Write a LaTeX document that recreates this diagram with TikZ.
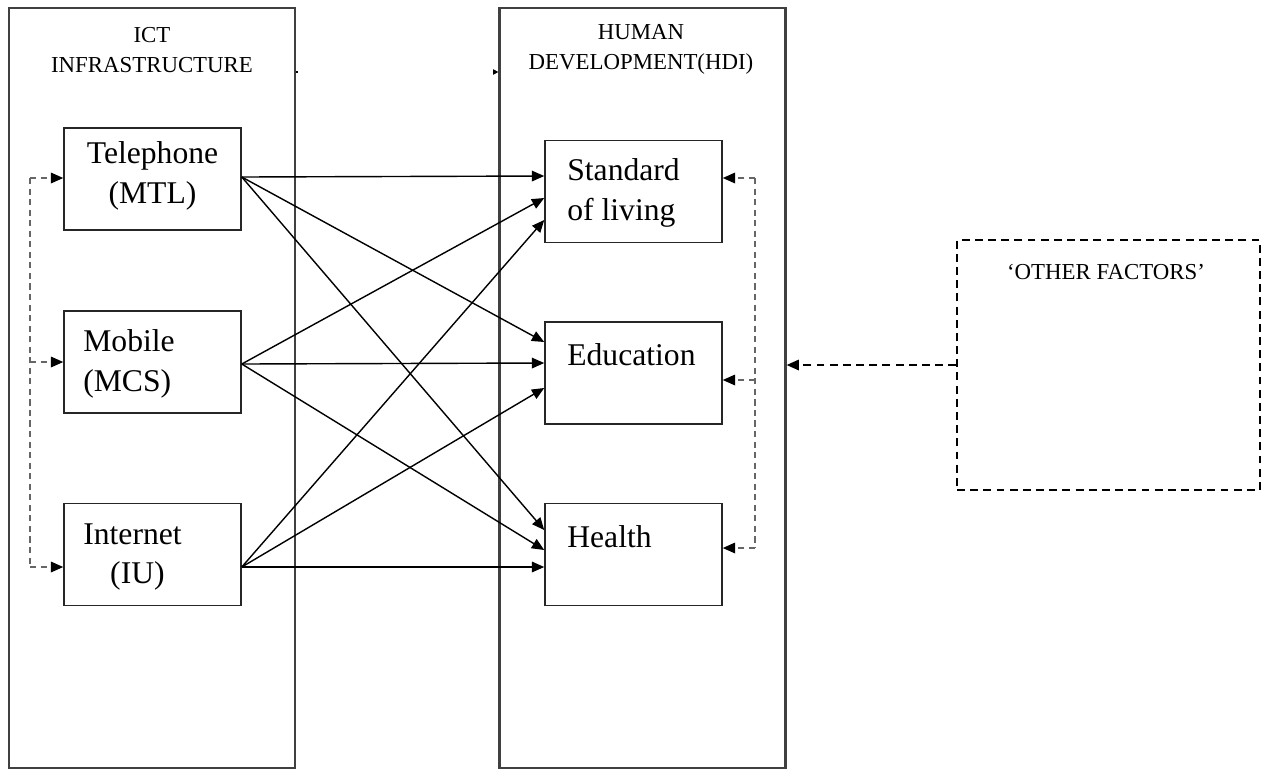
\documentclass[tikz,border=0pt]{standalone}
\usepackage{fontspec}
\setmainfont{Liberation Serif}
\usetikzlibrary{arrows.meta,calc}

\tikzset{
  col/.style={draw=black!75, line width=1.3pt, minimum width=5.72cm, minimum height=15.2cm, inner sep=0pt},
  box/.style={draw=black!85, line width=0.9pt, minimum width=3.54cm, minimum height=2.04cm, inner sep=0pt},
  other/.style={draw, line width=0.9pt, dash pattern=on 4.5pt off 3pt, minimum width=6.06cm, minimum height=5cm, inner sep=0pt},
  txt/.style={font=\fontsize{18}{22.7}\selectfont, inner sep=0pt},
  hd/.style={font=\fontsize{13}{17}\selectfont, align=center, inner sep=0pt},
  conn/.style={line width=0.8pt, -{Triangle[length=7pt,width=6pt]}},
  dline/.style={black!60, line width=0.9pt, dash pattern=on 3.5pt off 2.5pt},
  tip/.style={-{Triangle[length=7pt,width=6pt,color=black]}}
}

\begin{document}
\begin{tikzpicture}[x=0.02cm,y=-0.02cm]
  \useasboundingbox (0,0) rectangle (1265,769);

  % the two columns
  \node[col] (ict) at (152,388) {};
  \node[col] (hdi) at (642.5,388) {};
  \node[hd] (ict-t) at (152,50) {ICT\\INFRASTRUCTURE};
  \node[hd] (hdi-t) at (641,49) {HUMAN\\DEVELOPMENT(HDI)};

  % ICT boxes
  \node[box] (tel) at (152.5,179) {};
  \node[box] (mob) at (152.5,362) {};
  \node[box] (net) at (152.5,554.5) {};
  \node[txt, align=center] (tel-t) at (152.5,175.5) {Telephone\\(MTL)};
  \node[txt, align=left, anchor=west] (mob-t) at (83,364) {Mobile\\(MCS)};
  \node[txt, align=left, anchor=west] (net-t) at (83,557) {Internet\\\hspace*{0.85em}(IU)};

  % HDI boxes
  \node[box] (std) at (633.5,191.5) {};
  \node[box] (edu) at (633.5,373) {};
  \node[box] (hea) at (633.5,554.5) {};
  \node[txt, align=left, anchor=west] (std-t) at (567,193) {Standard\\of living};
  \node[txt, anchor=west] (edu-t) at (567,355) {Education};
  \node[txt, anchor=west] (hea-t) at (567,537) {Health};

  % other factors
  \node[other] (oth) at (1108.5,365) {};
  \node[hd] (oth-t) at (1106,272) {‘OTHER FACTORS’};

  % links between the boxes
  \foreach \s/\sy/\a/\b/\c in {tel/-2/-15.5/-31/-24.5, mob/2/6.5/-10/-4.5, net/12.5/28.5/15/12.5} {
    \draw[conn] ($(\s.east)+(0,\sy)$) -- ($(std.west)+(0,\a)$);
    \draw[conn] ($(\s.east)+(0,\sy)$) -- ($(edu.west)+(0,\b)$);
    \draw[conn] ($(\s.east)+(0,\sy)$) -- ($(hea.west)+(0,\c)$);
  }

  % dashed brackets
  \coordinate (lb1) at (30,178);
  \coordinate (lb2) at (30,362);
  \coordinate (lb3) at (30,567);
  \draw[dline] (lb1) -- (lb3);
  \draw[dline,tip] (lb1) -- (tel.west |- lb1);
  \draw[dline,tip] (lb2) -- (mob.west |- lb2);
  \draw[dline,tip] (lb3) -- (net.west |- lb3);

  \coordinate (rb1) at (755,178);
  \coordinate (rb2) at (755,380);
  \coordinate (rb3) at (755,548);
  \draw[dline] (rb1) -- (rb3);
  \draw[dline,tip] (rb1) -- (std.east |- rb1);
  \draw[dline,tip] (rb2) -- (edu.east |- rb2);
  \draw[dline,tip] (rb3) -- (hea.east |- rb3);

  \draw[line width=0.9pt, dash pattern=on 4.5pt off 3pt, tip] (oth.west) -- (oth.west -| hdi.east);

  % small marks between the columns
  \coordinate (m1) at (298,72);
  \coordinate (m2) at (494,72);
  \draw[line width=0.8pt] (ict.east |- m1) -- (m1);
  \draw[line width=0.6pt, -{Triangle[length=3pt,width=3pt]}] (m2) -- (hdi.west |- m2);
\end{tikzpicture}
\end{document}
